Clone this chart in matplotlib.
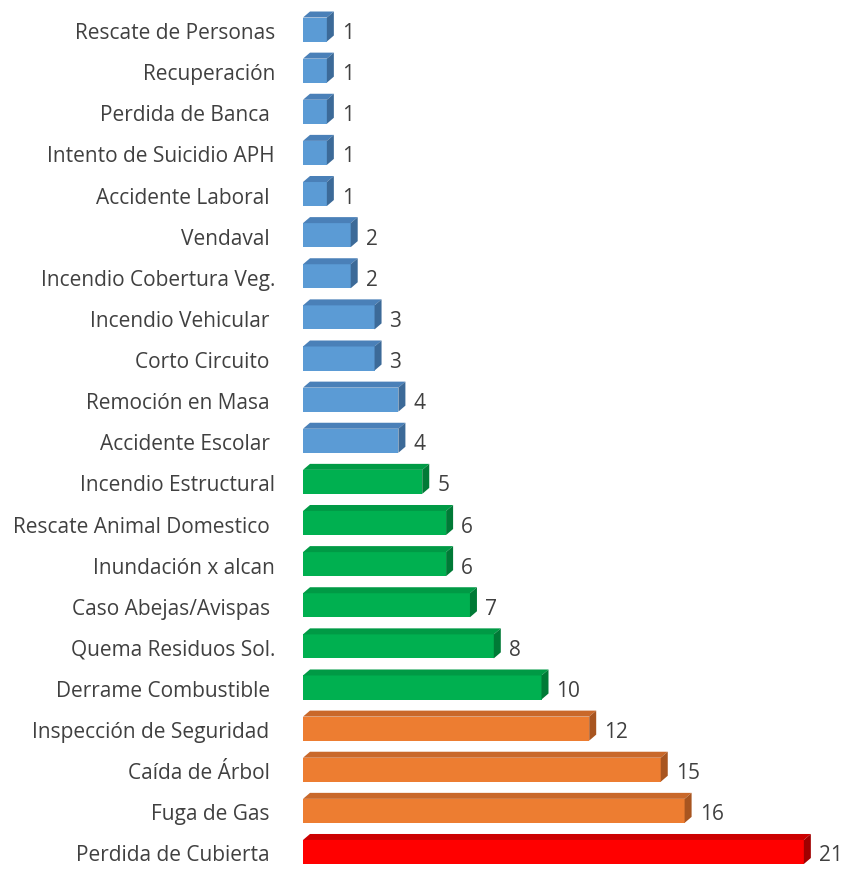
import matplotlib.pyplot as plt
from matplotlib.patches import Polygon

# Data (top to bottom as shown); some source labels carry a trailing space
categories = [
    "Rescate de Personas", "Recuperación", "Perdida de Banca ",
    "Intento de Suicidio APH", "Accidente Laboral ", "Vendaval ",
    "Incendio Cobertura Veg.", "Incendio Vehicular ", "Corto Circuito ",
    "Remoción en Masa ", "Accidente Escolar ", "Incendio Estructural",
    "Rescate Animal Domestico ", "Inundación x alcan", "Caso Abejas/Avispas ",
    "Quema Residuos Sol.", "Derrame Combustible ", "Inspección de Seguridad ",
    "Caída de Árbol ", "Fuga de Gas ", "Perdida de Cubierta ",
]
values = [1, 1, 1, 1, 1, 2, 2, 3, 3, 4, 4, 5, 6, 6, 7, 8, 10, 12, 15, 16, 21]
groups = ["b"] * 11 + ["g"] * 6 + ["o"] * 3 + ["r"]

# front / top / side colours per group
palette = {
    "b": ("#5B9BD5", "#4A80B8", "#3C6A98"),
    "g": ("#00B050", "#009A45", "#007A36"),
    "o": ("#ED7D31", "#C9682A", "#A85520"),
    "r": ("#FF0000", "#CC0000", "#A00000"),
}

W, H = 841, 869
fig = plt.figure(figsize=(W / 100, H / 100), dpi=100)
x0 = 303
ax = fig.add_axes([x0 / W, 0, (W - x0) / W, 1])

px_x = 23.85   # pixels per unit
px_y = 41.1    # pixels per row
ax.set_xlim(0, (W - x0) / px_x)
ax.set_ylim(-(H - 852) / px_y, 20 + 29.5 / px_y)

dx = 7 / px_x
dy = 6 / px_y
h = 24 / px_y
txt_dy = -4 / px_y

n = len(categories)
for i, (cat, v, g) in enumerate(zip(categories, values, groups)):
    y = n - 1 - i
    front, top, side = palette[g]
    yb, yt = y - h / 2, y + h / 2
    ax.add_patch(Polygon([(0, yb), (v, yb), (v, yt), (0, yt)],
                         closed=True, facecolor=front, edgecolor="none"))
    ax.add_patch(Polygon([(0, yt), (v, yt), (v + dx, yt + dy), (dx, yt + dy)],
                         closed=True, facecolor=top, edgecolor="none"))
    ax.add_patch(Polygon([(v, yb), (v + dx, yb + dy), (v + dx, yt + dy), (v, yt)],
                         closed=True, facecolor=side, edgecolor="none"))
    ax.text(v + dx + 8 / px_x, y + txt_dy, str(v), ha="left", va="center",
            fontsize=15, color="#404040", family="Open Sans")
    ax.text(-28 / px_x, y + txt_dy, cat, ha="right", va="center",
            fontsize=15, color="#404040", family="Open Sans", clip_on=False)

ax.axis("off")
fig.savefig("out.png", dpi=100)
